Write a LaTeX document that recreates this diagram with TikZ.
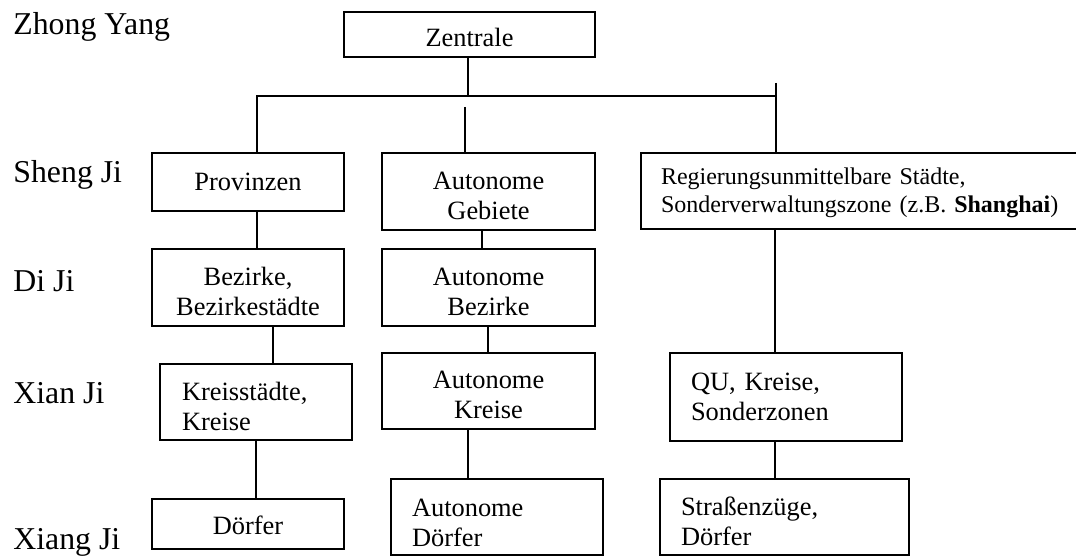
\documentclass[tikz,border=0pt]{standalone}
\usepackage{fontspec}
\setmainfont{Liberation Serif}
\newcommand\boxfont{\fontsize{13.2}{15}\selectfont}
\newcommand\wideboxfont{\fontsize{12}{14}\selectfont}
\newcommand\levelfont{\fontsize{15.9}{19}\selectfont}
\tikzset{
  box/.style={draw=cbox, text=ctext, line width=0.85pt, inner xsep=10.5pt, inner ysep=0pt,
    outer sep=0pt, anchor=north west, font=\boxfont},
  mid/.style={align=center},
  left/.style={align=left},
  link/.style={draw=clink, line width=0.85pt},
  vlink/.style={to path={-- (\tikztostart |- \tikztotarget) \tikztonodes}},
  level/.style={anchor=base west, inner sep=0pt, text=ctext, font=\levelfont}
}
\begin{document}
\begin{tikzpicture}[x=0.5pt,y=-0.5pt]
%
\useasboundingbox (0,0) rectangle (1076,556);
\clip (0,0) rectangle (1076,556);
%
\definecolor{cbox}{rgb}{0.0,0.0,0.0}
\definecolor{clink}{rgb}{0.0,0.0,0.0}
\definecolor{ctext}{rgb}{0.0,0.0,0.0}
%
\node[level] (lzhong) at (13,35) {Zhong Yang};
\node[level] (lsheng) at (13,183) {Sheng Ji};
\node[level] (ldi) at (13,291) {Di Ji};
\node[level] (lxian) at (13,403) {Xian Ji};
\node[level] (lxiang) at (13,549) {Xiang Ji};
%
\node[box,mid,minimum width=125.5pt,minimum height=22.5pt,text width=104.5pt,text height=12.5pt] (zentrale) at (344,12) {Zentrale};
\node[box,mid,minimum width=96pt,minimum height=29pt,text width=75pt] (prov) at (152,153) {Provinzen};
\node[box,mid,minimum width=106.5pt,minimum height=38.5pt,text width=85.5pt,text height=13pt] (autgeb) at (382,153) {Autonome\\Gebiete};
\node[box,left,font=\wideboxfont,inner xsep=10pt,minimum width=224.5pt,minimum height=38pt,text width=204.5pt,text height=10.2pt] (regst) at (641,153) {Regierungsunmittelbare St\"adte,\\Sonderverwaltungszone (z.B. \textbf{Shanghai})};
\node[box,mid,minimum width=96pt,minimum height=38.5pt,text width=75pt,text height=13.5pt] (bez) at (152,249) {Bezirke,\\Bezirkest\"adte};
\node[box,mid,minimum width=106.5pt,minimum height=38.5pt,text width=85.5pt,text height=13.5pt] (autbez) at (382,249) {Autonome\\Bezirke};
\node[box,left,inner xsep=11pt,minimum width=96pt,minimum height=38pt,text width=74pt,text height=14pt] (kreisst) at (160,364) {Kreisst\"adte,\\Kreise};
\node[box,mid,minimum width=106.5pt,minimum height=38pt,text width=85.5pt,text height=13pt] (autkr) at (382,353) {Autonome\\Kreise};
\node[box,left,minimum width=116pt,minimum height=44pt,text width=95pt] (qu) at (670,353) {QU, Kreise,\\Sonderzonen};
\node[box,mid,minimum width=96pt,minimum height=25pt,text width=75pt,text height=10.5pt] (dorf) at (152,499) {D\"orfer};
\node[box,left,minimum width=106pt,minimum height=38pt,text width=85pt,text height=14.5pt] (autdorf) at (391,479) {Autonome\\D\"orfer};
\node[box,left,minimum width=124.5pt,minimum height=38pt,text width=103.5pt,text height=14pt] (strasse) at (660,479) {Stra\ss enz\"uge,\\D\"orfer};
%
\coordinate (busL) at (257,96);
\coordinate (busR) at (776,96);
\coordinate (stub) at (776,83);
\coordinate (midtop) at (465,107);
%
\draw[link] ([xshift=-0.75pt]zentrale.south) to[vlink] (busL);
\draw[link] (busL |- prov.north) -- (busL) -- (busR);
\draw[link] (stub) to[vlink] (regst.north);
\draw[link] (midtop) to[vlink] (autgeb.north);
%
\draw[link] ([xshift=4.5pt]prov.south) to[vlink] (bez.north);
\draw[link] ([xshift=-3.25pt]autgeb.south) to[vlink] (autbez.north);
\draw[link] ([xshift=67pt]regst.south west) to[vlink] (qu.north);
\draw[link] ([xshift=12.5pt]bez.south) to[vlink] (kreisst.north);
\draw[link] ([xshift=-0.25pt]autbez.south) to[vlink] (autkr.north);
\draw[link] (kreisst.south) to[vlink] (dorf.north);
\draw[link] ([xshift=-10.25pt]autkr.south) to[vlink] (autdorf.north);
\draw[link] ([xshift=-5.5pt]qu.south) to[vlink] (strasse.north);
%
\end{tikzpicture}
\end{document}
